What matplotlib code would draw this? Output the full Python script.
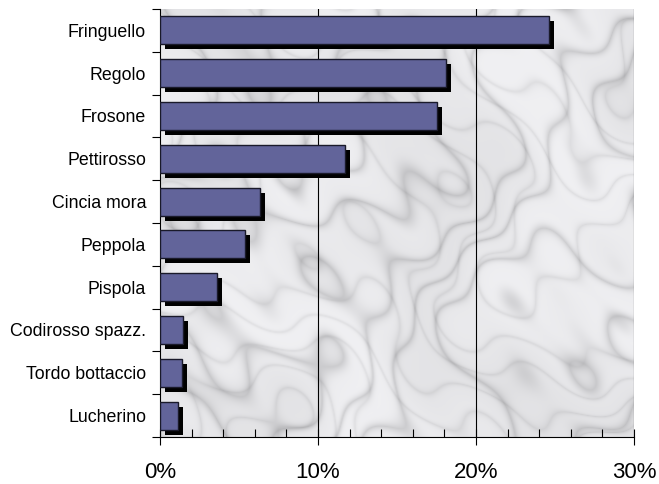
import numpy as np
import matplotlib.pyplot as plt
from matplotlib.transforms import ScaledTranslation
from matplotlib.ticker import MultipleLocator, PercentFormatter

plt.rcParams['font.family'] = ['Liberation Sans', 'DejaVu Sans']

species = ['Fringuello', 'Regolo', 'Frosone', 'Pettirosso', 'Cincia mora',
           'Peppola', 'Pispola', 'Codirosso spazz.', 'Tordo bottaccio', 'Lucherino']
share = [24.6, 18.1, 17.5, 11.7, 6.3, 5.4, 3.6, 1.45, 1.37, 1.17]

fig = plt.figure(figsize=(6.59, 4.84), dpi=100)
ax = fig.add_axes([160 / 659, 1 - 437 / 484, 474 / 659, 428 / 484])

# marble-ish background (texture only, not data)
h, w = 430, 475
yy, xx = np.mgrid[0:h, 0:w] / 70.0
warp = (np.sin(xx * 1.1 + yy * 0.5) + 0.8 * np.sin(xx * 0.35 - yy * 1.7 + 1.0)
        + 0.5 * np.sin(xx * 2.3 + yy * 1.9 + 2.0) + 0.3 * np.sin(xx * 5.1 - yy * 4.3))
veins = np.abs(np.sin((xx + 0.8 * yy) * 1.6 + warp * 2.4))
fine = np.abs(np.sin((xx * 0.5 - yy) * 3.2 + warp * 3.1))
clouds = 0.5 + 0.5 * np.sin(xx * 0.9 - yy * 0.6 + warp)
tex = 0.94 - 0.13 * (1 - veins) ** 3 - 0.07 * (1 - fine) ** 4 - 0.05 * clouds
tex = np.clip(tex, 0, 1)
ax.imshow(np.dstack([tex, tex, np.clip(tex + 0.01, 0, 1)]), extent=(0, 30, 9.5, -0.5),
          aspect='auto', zorder=0, interpolation='bilinear')

y = np.arange(len(species))
shadow = ax.transData + ScaledTranslation(5 / 100, -5 / 100, fig.dpi_scale_trans)
ax.barh(y, share, height=0.65, color='black', zorder=2, transform=shadow)
ax.barh(y, share, height=0.65, color='#62649a', edgecolor='#1a1a2a', linewidth=1, zorder=3)

ax.set_xlim(0, 30)
ax.set_ylim(9.5, -0.5)
ax.xaxis.set_major_locator(MultipleLocator(10))
ax.xaxis.set_minor_locator(MultipleLocator(2))
ax.xaxis.set_major_formatter(PercentFormatter(decimals=0))
for gx in [10, 20, 30]:
    ax.axvline(gx, color='black', linewidth=0.8, zorder=1)

ax.set_yticks(y)
ax.set_yticklabels(species, fontsize=12.8)
ax.set_yticks(np.arange(-0.5, 10, 1), minor=True)
ax.tick_params(axis='y', which='major', length=0, pad=10)
ax.tick_params(axis='y', which='minor', length=6, direction='out', width=0.8)
ax.tick_params(axis='x', which='major', length=12, direction='inout', width=0.8, labelsize=16, pad=12)
ax.tick_params(axis='x', which='minor', length=6, direction='in', width=0.8)

for s in ['top', 'right']:
    ax.spines[s].set_visible(False)
ax.spines['left'].set_linewidth(0.8)
ax.spines['bottom'].set_linewidth(0.8)

plt.savefig('out.png', dpi=100)
